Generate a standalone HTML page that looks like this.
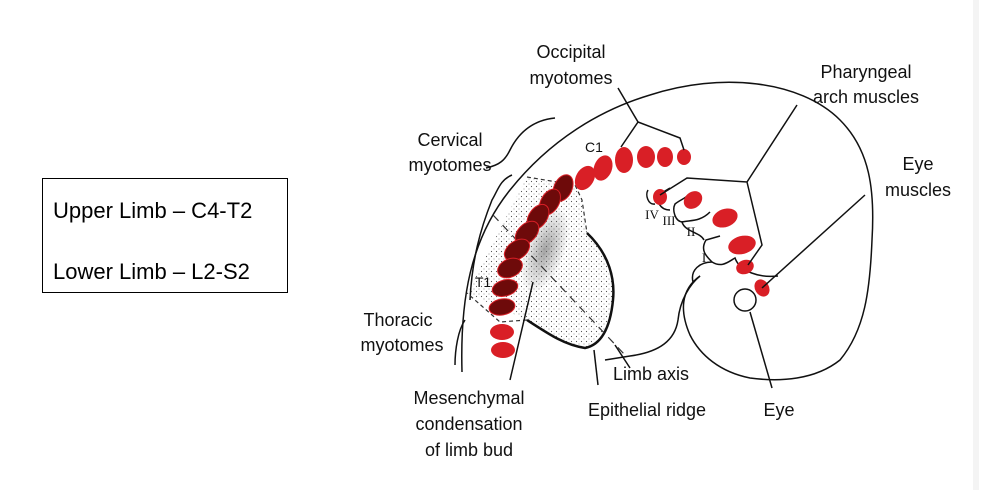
<!DOCTYPE html>
<html><head><meta charset="utf-8"><style>
html,body{margin:0;padding:0;background:#fff;}
svg{display:block;font-family:"Liberation Sans",sans-serif;}
</style></head><body>
<svg width="981" height="490" viewBox="0 0 981 490">
<defs>
<pattern id="dots" width="5" height="5" patternUnits="userSpaceOnUse"><circle cx="1.5" cy="1.5" r="0.6" fill="#555"/><circle cx="4" cy="4" r="0.5" fill="#777"/></pattern>
<radialGradient id="dense" cx="0.5" cy="0.5" r="0.5"><stop offset="0" stop-color="#666" stop-opacity="0.6"/><stop offset="1" stop-color="#666" stop-opacity="0"/></radialGradient>
</defs>
<line x1="976" y1="0" x2="976" y2="490" stroke="#f4f4f4" stroke-width="6"/>
<g>
<rect x="42.5" y="178.5" width="245" height="114" fill="#fff" stroke="#000" stroke-width="1"/>
<text x="53" y="218" font-size="22">Upper Limb – C4-T2</text>
<text x="53" y="279" font-size="22">Lower Limb – L2-S2</text>
</g>
<g fill="none" stroke="#111" stroke-width="1.5">
<path d="M462,372 C460,300 470,240 510,190 C550,140 600,110 650,95 C720,72 800,80 840,120 C870,150 875,190 872,240 C870,290 865,330 840,360 C815,380 780,382 750,378 C720,372 700,355 690,335 C680,312 680,290 700,276"/>
<path d="M700,276 C690,284 680,300 678,320 C675,340 660,352 630,356 L605,360" />
<path d="M693,282 C690,270 700,262 712,262 C706,256 700,250 706,240 L720,236"/>
<path d="M712,262 C722,268 728,262 735,258 C740,272 760,278 778,276"/>
<path d="M704,240 C700,232 685,232 682,222 C690,220 700,222 710,212"/>
<path d="M683,222 C675,222 672,210 675,204 C680,200 686,198 688,195"/>
<path d="M670,210 C660,210 655,200 660,194 L670,188"/>
<path d="M655,204 C648,205 645,195 648,190"/>
<path d="M512,175 C500,180 498,190 492,200 C480,230 472,260 470,300" />
<path d="M465,320 C458,330 455,350 455,365"/>
<path d="M486,168 C500,165 505,160 510,150 C520,130 535,120 555,118"/>
</g>
<path d="M527,177 L580,190 L587,233 C610,255 615,280 613,300 C610,330 600,345 585,348 C560,345 545,330 527,320 L467,293 Z" fill="url(#dots)" stroke="none"/>
<ellipse cx="545" cy="250" rx="20" ry="45" fill="url(#dense)" transform="rotate(20 545 250)"/>
<path d="M527,177 L575,185 L582,200 L587,233 M527,320 L500,322 L467,293" fill="none" stroke="#333" stroke-dasharray="4,3" stroke-width="1.2"/>
<path d="M587,233 C610,255 615,280 613,300 C610,330 600,345 585,348 C565,345 550,335 527,320" fill="none" stroke="#111" stroke-width="2.5"/>
<line x1="493" y1="215" x2="625" y2="355" stroke="#333" stroke-dasharray="8,6" stroke-width="1.2"/>
<g>
<g fill="#d91f26">
<ellipse cx="684" cy="157" rx="7" ry="8"/><ellipse cx="665" cy="157" rx="8" ry="10"/><ellipse cx="646" cy="157" rx="9" ry="11"/>
<ellipse cx="624" cy="160" rx="9" ry="13"/><ellipse cx="603" cy="168" rx="9" ry="13" transform="rotate(20 603 168)"/><ellipse cx="585" cy="178" rx="9" ry="13" transform="rotate(30 585 178)"/>
<ellipse cx="502" cy="332" rx="12" ry="8"/><ellipse cx="503" cy="350" rx="12" ry="8"/>
<ellipse cx="660" cy="197" rx="7" ry="8"/><ellipse cx="693" cy="200" rx="8" ry="10" transform="rotate(50 693 200)"/><ellipse cx="725" cy="218" rx="9" ry="13" transform="rotate(70 725 218)"/>
<ellipse cx="742" cy="245" rx="9" ry="14" transform="rotate(75 742 245)"/><ellipse cx="745" cy="267" rx="7" ry="9" transform="rotate(70 745 267)"/><ellipse cx="762" cy="288" rx="7" ry="9" transform="rotate(-30 762 288)"/>
</g>
<g fill="#6e0a0a" stroke="#d91f26" stroke-width="1">
<ellipse cx="563" cy="188" rx="9" ry="14" transform="rotate(25 563 188)"/><ellipse cx="550" cy="202" rx="9" ry="14" transform="rotate(30 550 202)"/>
<ellipse cx="538" cy="217" rx="9" ry="14" transform="rotate(35 538 217)"/><ellipse cx="527" cy="233" rx="9" ry="14" transform="rotate(45 527 233)"/>
<ellipse cx="517" cy="250" rx="9" ry="14" transform="rotate(55 517 250)"/><ellipse cx="510" cy="268" rx="9" ry="13" transform="rotate(65 510 268)"/>
<ellipse cx="505" cy="288" rx="8" ry="13" transform="rotate(75 505 288)"/><ellipse cx="502" cy="307" rx="8" ry="13" transform="rotate(80 502 307)"/>
</g>
</g>
<circle cx="745" cy="300" r="11" fill="#fff" stroke="#111" stroke-width="1.5"/>
<g fill="none" stroke="#111" stroke-width="1.5">
<path d="M618,88 L638,122 L621,147 M638,122 L680,138 L684,150"/>
<path d="M797,105 L747,182 L687,178 L660,195 M747,182 L762,245 L748,265"/>
<path d="M865,195 L762,288"/>
<path d="M750,312 L772,388"/>
<path d="M533,282 L510,380"/>
<path d="M594,350 L598,385"/>
<path d="M615,345 L630,368"/>
</g>
<g font-size="18" fill="#111" text-anchor="middle">
<text x="571" y="58">Occipital</text>
<text x="571" y="84">myotomes</text>
<text x="866" y="78">Pharyngeal</text>
<text x="866" y="103">arch muscles</text>
<text x="450" y="146">Cervical</text>
<text x="450" y="171">myotomes</text>
<text x="918" y="170">Eye</text>
<text x="918" y="196">muscles</text>
<text x="398" y="326">Thoracic</text>
<text x="402" y="351">myotomes</text>
<text x="469" y="404">Mesenchymal</text>
<text x="469" y="430">condensation</text>
<text x="469" y="456">of limb bud</text>
<text x="651" y="380">Limb axis</text>
<text x="647" y="416">Epithelial ridge</text>
<text x="779" y="416">Eye</text>
<text x="594" y="152" font-size="14">C1</text>
<text x="483" y="287" font-size="14">T1</text>
</g>
<g font-family="Liberation Serif,serif" font-size="13" fill="#111" text-anchor="middle">
<text x="652" y="219">IV</text><text x="669" y="225">III</text><text x="691" y="236">II</text><text x="704" y="262">I</text>
</g>
</svg>
</body></html>
